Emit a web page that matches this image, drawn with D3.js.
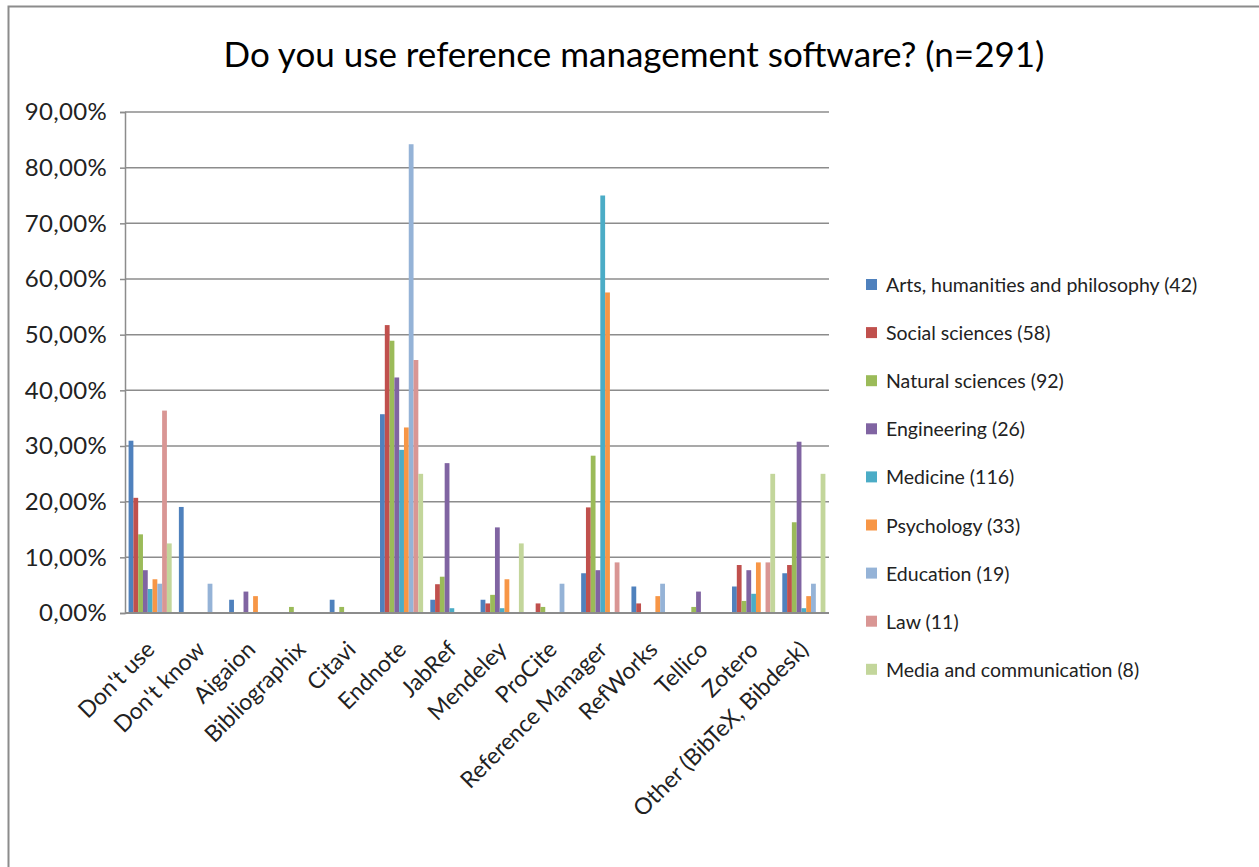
<!DOCTYPE html>
<html><head><meta charset="utf-8">
<script src="https://cdn.jsdelivr.net/npm/d3@7"></script>
<style>body{margin:0;background:#fff}svg{display:block}</style>
</head><body>
<svg id="c" width="1259" height="867"></svg>
<script>
const categories = ["Don't use","Don't know","Aigaion","Bibliographix","Citavi","Endnote","JabRef","Mendeley","ProCite","Reference Manager","RefWorks","Tellico","Zotero","Other (BibTeX, Bibdesk)"];
const seriesNames = ["Arts, humanities and philosophy (42)","Social sciences (58)","Natural sciences (92)","Engineering (26)","Medicine (116)","Psychology (33)","Education (19)","Law (11)","Media and communication (8)"];
const seriesColors = ["#4F81BD","#C0504D","#9BBB59","#8064A2","#4BACC6","#F79646","#95B3D7","#D99694","#C3D69B"];
// values in percent, one array per series, ordered as categories
const arts      = [30.95,19.05,2.38,0,2.38,35.71,2.38,2.38,0,7.14,4.76,0,4.76,7.14];
const social    = [20.69,0,0,0,0,51.72,5.17,1.72,1.72,18.97,1.72,0,8.62,8.62];
const natural   = [14.13,0,0,1.09,1.09,48.91,6.52,3.26,1.09,28.26,0,1.09,2.17,16.30];
const engineer  = [7.69,0,3.85,0,0,42.31,26.92,15.38,0,7.69,0,3.85,7.69,30.77];
const medicine  = [4.31,0,0,0,0,29.31,0.86,0.86,0,75.00,0,0,3.45,0.86];
const psychology= [6.06,0,3.03,0,0,33.33,0,6.06,0,57.58,3.03,0,9.09,3.03];
const education = [5.26,5.26,0,0,0,84.21,0,0,5.26,0,5.26,0,0,5.26];
const law       = [36.36,0,0,0,0,45.45,0,0,0,9.09,0,0,9.09,0];
const media     = [12.5,0,0,0,0,25.0,0,12.5,0,0,0,0,25.0,25.0];
const yTicks = [0,10,20,30,40,50,60,70,80,90];
const titleText = "Do you use reference management software? (n=291)";

const seriesValues = [arts,social,natural,engineer,medicine,psychology,education,law,media];
const FONT = "Lato, 'Open Sans', sans-serif";
const svg = d3.select("#c");

// outer chart border (left and top)
svg.append("path").attr("d","M8.5,867 V6.5 H1259").attr("fill","none").attr("stroke","#8c8c8c").attr("stroke-width",2);

svg.append("text").attr("x",634).attr("y",67).attr("text-anchor","middle")
  .attr("font-family",FONT).attr("font-size",35).attr("fill","#000").text(titleText);

const L=125,R=829,T=112,B=613;
const x0 = d3.scaleBand().domain(categories).range([L,R]).padding(0);
const x1 = d3.scaleBand().domain(d3.range(seriesNames.length)).range([0,x0.bandwidth()]).paddingInner(0).paddingOuter(0.75);
const y = d3.scaleLinear().domain([0,90]).range([B,T]);

const loc = d3.formatLocale({decimal:",",thousands:".",grouping:[3],currency:["","€"],percent:"%"});
const fmt = loc.format(".2%");

// gridlines
svg.append("g").selectAll("line").data(yTicks.filter(d=>d>0)).join("line")
  .attr("x1",L).attr("x2",R).attr("y1",d=>y(d)).attr("y2",d=>y(d))
  .attr("stroke","#8c8c8c").attr("stroke-width",1.5);

// y axis
const ya = svg.append("g").attr("transform",`translate(${L},0)`)
  .call(d3.axisLeft(y).tickValues(yTicks).tickSize(5).tickPadding(13).tickFormat(d=>fmt(d/100)));
ya.select(".domain").attr("stroke","#8c8c8c").attr("stroke-width",1.5);
ya.selectAll(".tick line").attr("stroke","#8c8c8c").attr("stroke-width",1.5);
ya.selectAll("text").attr("font-family",FONT).attr("font-size",24).attr("letter-spacing",0.3).attr("fill","#222");

// bars
const bars = svg.append("g");
categories.forEach((c,ci)=>{
  seriesValues.forEach((vals,si)=>{
    const v = vals[ci];
    if(v>0){
      bars.append("rect").attr("x",x0(c)+x1(si)).attr("width",x1.bandwidth())
        .attr("y",y(v)).attr("height",B-y(v)).attr("fill",seriesColors[si]);
    }
  });
});

// x axis line
svg.append("line").attr("x1",L).attr("x2",R).attr("y1",B).attr("y2",B).attr("stroke","#8c8c8c").attr("stroke-width",2);

// x labels
svg.append("g").selectAll("text").data(categories).join("text")
  .attr("transform",d=>`translate(${x0(d)+x0.bandwidth()/2+6},${B+38}) rotate(-45)`)
  .attr("text-anchor","end").attr("font-family",FONT).attr("font-size",23).attr("fill","#222")
  .text(d=>d);

// legend
const lg = svg.append("g").attr("transform","translate(866,285)");
seriesNames.forEach((n,i)=>{
  const g = lg.append("g").attr("transform",`translate(0,${i*48.1})`);
  g.append("rect").attr("x",0).attr("y",-6).attr("width",11).attr("height",11).attr("fill",seriesColors[i]);
  g.append("text").attr("x",20).attr("y",7).attr("font-family",FONT).attr("font-size",19.5).attr("fill","#222").text(n);
});
</script>
</body></html>
